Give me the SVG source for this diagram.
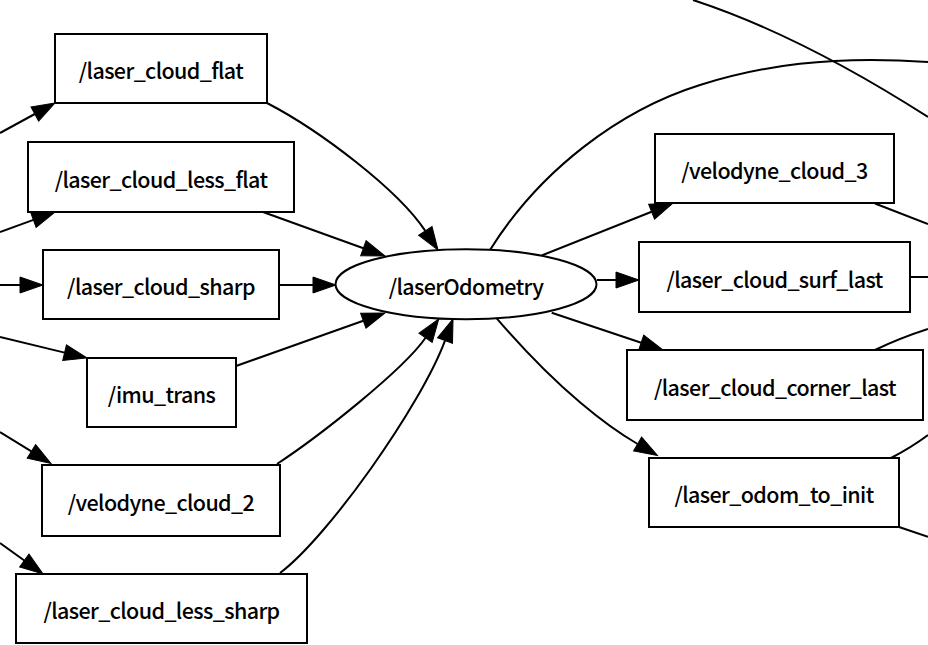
<svg xmlns="http://www.w3.org/2000/svg" width="928" height="645" viewBox="0 0 928 645">
<style>
  .node rect, .node ellipse { fill: #ffffff; stroke: #000000; stroke-width: 2; }
  .node text { font-family: "Noto Sans CJK SC", "Noto Sans", sans-serif; font-size: 21.5px; font-weight: 500; letter-spacing: -0.6px; text-anchor: middle; fill: #000000; }
  .edges path { fill: none; stroke: #000000; stroke-width: 2; }
  .edges path.arr { marker-end: url(#ah); }
</style>
<defs>
  <marker id="ah" markerUnits="userSpaceOnUse" markerWidth="24" markerHeight="18" refX="0" refY="8" orient="auto" overflow="visible">
    <path d="M0,0 L23,8 L0,16 Z" fill="#000000" stroke="#000000" stroke-width="1"/>
  </marker>
</defs>
<rect width="928" height="645" fill="#ffffff"/>

<g class="edges">
  <!-- incoming from left -->
  <path class="arr" d="M0,133 L34.8,114"/>
  <path class="arr" d="M0,232 L33.4,219.9"/>
  <path class="arr" d="M0,285 L20,285"/>
  <path class="arr" d="M0,337 L64.6,352.6"/>
  <path class="arr" d="M0,432 L31.4,451.4"/>
  <path class="arr" d="M0,543 L24.3,560.5"/>
  <!-- left boxes to laserOdometry -->
  <path class="arr" d="M267,103 C320,130.6 397.8,189.4 425.3,230.9"/>
  <path class="arr" d="M263,212 L363.4,248.2"/>
  <path class="arr" d="M279,285 L313,285"/>
  <path class="arr" d="M236,366 L363.3,320.7"/>
  <path class="arr" d="M277,464 C318.8,436.5 402.8,370.6 425.6,337.8"/>
  <path class="arr" d="M280,573 C328,537 420.5,406.4 445,340.6"/>
  <!-- laserOdometry to right boxes -->
  <path class="arr" d="M541.7,255.5 L651.6,211.7"/>
  <path class="arr" d="M597,280 L616,280"/>
  <path class="arr" d="M551.7,312.7 L641.2,342.7"/>
  <path class="arr" d="M496.7,318.3 C560,392 610,428 637.6,444"/>
  <path d="M490,250 C540,170 620,110 700,85 C760,66 830,55 928,62"/>
  <!-- passing / outgoing right -->
  <path d="M693,0 Q800,35 928,117"/>
  <path d="M875,203.5 L928,224"/>
  <path d="M910,277 L928,277"/>
  <path d="M875,350 Q900,338 928,329"/>
  <path d="M891,458 Q912,447 928,435"/>
  <path d="M899,527 L928,536.7"/>
</g>

<g id="laser_cloud_flat" class="node">
  <rect x="55" y="34" width="212" height="69"/>
  <text x="161" y="79">/laser_cloud_flat</text>
</g>
<g id="laser_cloud_less_flat" class="node">
  <rect x="28" y="142" width="266" height="70"/>
  <text x="161" y="187.5">/laser_cloud_less_flat</text>
</g>
<g id="laser_cloud_sharp" class="node">
  <rect x="43" y="250" width="236" height="69"/>
  <text x="161" y="295">/laser_cloud_sharp</text>
</g>
<g id="imu_trans" class="node">
  <rect x="87" y="358" width="149" height="69"/>
  <text x="161.5" y="403">/imu_trans</text>
</g>
<g id="velodyne_cloud_2" class="node">
  <rect x="42" y="465" width="238" height="71"/>
  <text x="161" y="511">/velodyne_cloud_2</text>
</g>
<g id="laser_cloud_less_sharp" class="node">
  <rect x="16" y="574" width="291" height="69"/>
  <text x="161.5" y="619">/laser_cloud_less_sharp</text>
</g>
<g id="laserOdometry" class="node">
  <ellipse cx="466" cy="284.3" rx="130.5" ry="35"/>
  <text x="466" y="294.8">/laserOdometry</text>
</g>
<g id="velodyne_cloud_3" class="node">
  <rect x="655" y="134" width="239" height="69"/>
  <text x="774.5" y="179">/velodyne_cloud_3</text>
</g>
<g id="laser_cloud_surf_last" class="node">
  <rect x="639" y="242" width="271" height="70"/>
  <text x="774.5" y="287.5">/laser_cloud_surf_last</text>
</g>
<g id="laser_cloud_corner_last" class="node">
  <rect x="627" y="350" width="296" height="70"/>
  <text x="775" y="395.5">/laser_cloud_corner_last</text>
</g>
<g id="laser_odom_to_init" class="node">
  <rect x="649" y="458" width="250" height="69"/>
  <text x="774" y="503">/laser_odom_to_init</text>
</g>
</svg>
